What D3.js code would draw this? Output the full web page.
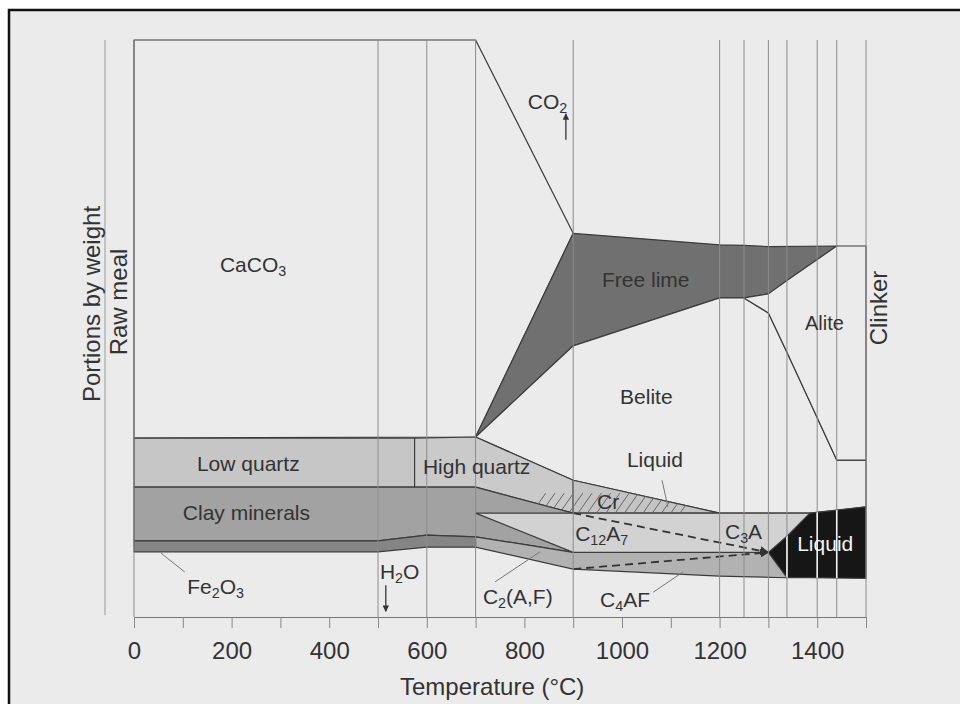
<!DOCTYPE html>
<html>
<head>
<meta charset="utf-8">
<script src="https://cdn.jsdelivr.net/npm/d3@7"></script>
<style>
  body { margin: 0; background: #fff; }
  svg text { font-family: "Liberation Sans", Arial, Helvetica, sans-serif; fill: #333; }
</style>
</head>
<body>
<div id="vis"></div>
<script>
'use strict';

// temperatures (°C) where the process stages change, drawn as thin vertical lines
const stageTemps = [0, 500, 600, 700, 900, 1200, 1250, 1300, 1338, 1400, 1440, 1500];

// phase bands: [temperature, lower edge, upper edge] in portions by weight
const caco3        = [[0, 31.0, 100], [700, 31.2, 100], [900, 66.5, 66.5]];
const freeLime     = [[700, 31.2, 31.2], [900, 47.0, 66.5], [1200, 55.3, 64.5], [1250, 55.3, 64.4], [1300, 56.0, 64.2], [1440, 64.3, 64.3]];
const alite        = [[1250, 55.3, 55.3], [1300, 52.7, 56.0], [1338, 45.9, 58.3], [1440, 27.2, 64.3], [1500, 27.2, 64.3]];
const belite       = [[700, 31.2, 31.2], [900, 23.7, 47.0], [1200, 18.0, 55.3], [1250, 18.0, 55.3], [1300, 18.0, 52.7], [1338, 18.0, 45.9], [1385, 18.0, 37.3], [1440, 18.5, 27.2], [1500, 19.1, 27.2]];
const lowQuartz    = [[0, 22.5, 31.0], [575, 22.5, 31.0]];
const highQuartz   = [[575, 22.5, 31.0], [700, 22.5, 31.2], [900, 18.0, 23.7]];
const cristobalite = [[900, 18.0, 23.7], [1200, 18.0, 18.0]];
const clay         = [[0, 13.2, 22.5], [500, 13.2, 22.5], [600, 14.2, 22.5], [700, 13.9, 22.5], [900, 11.2, 18.0]];
const fe2o3        = [[0, 11.3, 13.2], [500, 11.3, 13.2], [600, 12.1, 14.2], [700, 12.1, 13.9]];
const ferrite      = [[700, 12.1, 13.9], [900, 8.3, 11.2], [1200, 7.1, 11.2], [1338, 6.8, 11.2]];
const aluminate    = [[700, 18.0, 18.0], [900, 11.2, 18.0], [1300, 11.2, 18.0], [1385, 11.2, 18.0]];
const liquid       = [[1300, 11.2, 11.2], [1338, 6.8, 14.0], [1385, 6.8, 18.0], [1500, 6.7, 19.1]];

// dashed conversion lines (C12A7 -> C3A, C2(A,F) -> C4AF)
const c12a7ToC3a = [[900, 18.0], [1300, 11.2]];
const c2afToC4af = [[900, 8.3], [1300, 11.2]];

// x axis ticks
const tickTemps = d3.range(0, 1501, 100);

const W = 960, H = 704;
const paper = '#ebebeb';

var svg = d3.select('#vis').append('svg')
    .attr('width', W)
    .attr('height', H);

// scanned page with its frame
svg.append('rect').attr('x', 9).attr('y', 10).attr('width', W).attr('height', H).attr('fill', paper);
svg.append('path').attr('d', 'M9,' + H + 'L9,10L' + W + ',10')
    .attr('fill', 'none').attr('stroke', '#111').attr('stroke-width', 2.5);

var x = d3.scaleLinear().domain([0, 1500]).range([134, 866]);
var y = d3.scaleLinear().domain([0, 100]).range([617, 40]);

var band = d3.area()
    .x(function(d) { return x(d[0]); })
    .y0(function(d) { return y(d[1]); })
    .y1(function(d) { return y(d[2]); });

var line = d3.line()
    .x(function(d) { return x(d[0]); })
    .y(function(d) { return y(d[1]); });

var defs = svg.append('defs');
defs.append('marker').attr('id', 'arrow')
    .attr('viewBox', '0 0 10 10').attr('refX', 9).attr('refY', 5)
    .attr('markerWidth', 5).attr('markerHeight', 5).attr('orient', 'auto')
    .append('path').attr('d', 'M0,0L10,5L0,10z').attr('fill', '#333');

// phase areas, bottom of the list is drawn last
var phases = [
  [caco3, paper], [freeLime, '#707070'], [belite, paper], [alite, paper],
  [lowQuartz, '#c6c6c6'], [highQuartz, '#cacaca'], [cristobalite, '#c4c4c4'],
  [clay, '#a2a2a2'], [fe2o3, '#858585'], [ferrite, '#b2b2b2'],
  [aluminate, '#d2d2d2'], [liquid, '#161616']
];

var g = svg.append('g');
phases.forEach(function(p) {
  g.append('path')
    .attr('d', band(p[0]))
    .attr('fill', p[1])
    .attr('stroke', '#3c3c3c')
    .attr('stroke-width', 1.2)
    .attr('stroke-linejoin', 'round');
});

// hatching over the quartz / cristobalite band (liquid beginning to form)
var hatchClip = defs.append('clipPath').attr('id', 'hatchClip');
hatchClip.append('path').attr('d', band(highQuartz));
hatchClip.append('path').attr('d', band(cristobalite));
g.append('g').attr('clip-path', 'url(#hatchClip)')
  .selectAll('line').data(d3.range(815, 1130, 19)).enter().append('line')
    .attr('x1', function(t) { return x(t); })
    .attr('y1', y(18.0))
    .attr('x2', function(t) { return x(t) + 14; })
    .attr('y2', y(18.0) - 20)
    .attr('stroke', '#666').attr('stroke-width', 1);

// dashed conversion lines
[c12a7ToC3a, c2afToC4af].forEach(function(d) {
  g.append('path')
    .attr('d', line(d))
    .attr('fill', 'none')
    .attr('stroke', '#333')
    .attr('stroke-width', 1.8)
    .attr('stroke-dasharray', '8,5')
    .attr('marker-end', 'url(#arrow)');
});

// stage lines
g.append('g').selectAll('line').data(stageTemps).enter().append('line')
    .attr('x1', function(t) { return x(t); })
    .attr('x2', function(t) { return x(t); })
    .attr('y1', y(100))
    .attr('y2', y(0))
    .attr('stroke', '#8c8c8c')
    .attr('stroke-width', 1);

// stage lines shown white inside the clinker melt
var liqClip = defs.append('clipPath').attr('id', 'liqClip');
liqClip.append('path').attr('d', band(liquid));
g.append('g').attr('clip-path', 'url(#liqClip)')
  .selectAll('line').data(stageTemps.filter(function(t) { return t > 1300 && t < 1500; }))
  .enter().append('line')
    .attr('x1', function(t) { return x(t); })
    .attr('x2', function(t) { return x(t); })
    .attr('y1', y(30))
    .attr('y2', y(0))
    .attr('stroke', '#eee')
    .attr('stroke-width', 1.6);

// y axis line (portions by weight)
svg.append('line')
    .attr('x1', 105).attr('x2', 105)
    .attr('y1', y(100)).attr('y2', y(0.3))
    .attr('stroke', '#999').attr('stroke-width', 1);

// x axis
var axis = svg.append('g')
    .attr('transform', 'translate(0,' + y(0) + ')')
    .call(d3.axisBottom(x)
      .tickValues(tickTemps)
      .tickSize(11)
      .tickSizeOuter(0)
      .tickPadding(14)
      .tickFormat(function(d) { return (d % 200 === 0 && d <= 1400) ? d : ''; }));
axis.select('.domain').attr('stroke', '#777');
axis.selectAll('.tick line').attr('stroke', '#888');
axis.selectAll('.tick text')
    .attr('font-size', 24)
    .attr('fill', '#333')
    .style('font-family', '"Liberation Sans", Arial, sans-serif');

// text with chemical subscripts: every run of digits goes low and small
function chem(txt, px, py, size, color) {
  var t = svg.append('text').attr('x', px).attr('y', py).attr('font-size', size);
  if (color) t.style('fill', color);
  var parts = txt.match(/\d+|\D+/g);
  var low = false;
  parts.forEach(function(p) {
    var isSub = /^\d+$/.test(p);
    var s = t.append('tspan').text(p);
    if (isSub) {
      s.attr('font-size', size * 0.68).attr('dy', low ? 0 : 4);
      low = true;
    } else {
      if (low) s.attr('dy', -4);
      low = false;
    }
  });
  return t;
}

chem('CaCO3', x(176), y(59.8), 21);
chem('Low quartz', x(129), y(25.3), 21);
chem('Clay minerals', x(100), y(16.8), 21);
chem('Fe2O3', x(109), y(4.0), 21);
chem('H2O', x(504), y(6.6), 21);
chem('High quartz', x(592), y(24.8), 21);
chem('CO2', x(807), y(88.0), 21);
chem('Free lime', x(959), y(57.2), 21);
chem('Alite', x(1375), y(49.7), 20);
chem('Belite', x(996), y(36.9), 21);
chem('Liquid', x(1010), y(26.0), 21);
chem('Cr', x(949), y(18.7), 21);
chem('C12A7', x(904), y(13.2), 21);
chem('C3A', x(1211), y(13.5), 21);
chem('Liquid', x(1359), y(11.4), 21, '#f4f4f4');
chem('C2(A,F)', x(715), y(2.25), 21);
chem('C4AF', x(955), y(1.7), 21);

// leader lines from labels to their bands
var leaders = [
  [[55, 11.1], [104, 7.8]],
  [[1082, 23.7], [1094, 19.1]],
  [[740, 6.1], [832, 11.3]],
  [[1064, 4.3], [1125, 7.8]]
];
leaders.forEach(function(d) {
  svg.append('path').attr('d', line(d)).attr('fill', 'none')
    .attr('stroke', '#777').attr('stroke-width', 1);
});

// released gases
[[[516, 5.5], [516, 1.0]], [[885, 82.7], [885, 87.2]]].forEach(function(d) {
  svg.append('path').attr('d', line(d)).attr('fill', 'none')
    .attr('stroke', '#333').attr('stroke-width', 1.3)
    .attr('marker-end', 'url(#arrow)');
});

// axis titles
svg.append('text').attr('x', 400).attr('y', 695).attr('font-size', 24).text('Temperature (°C)');
svg.append('text').attr('transform', 'translate(100,304) rotate(-90)')
    .attr('text-anchor', 'middle').attr('font-size', 24).text('Portions by weight');
svg.append('text').attr('transform', 'translate(127,302) rotate(-90)')
    .attr('text-anchor', 'middle').attr('font-size', 24).text('Raw meal');
svg.append('text').attr('transform', 'translate(887,308) rotate(-90)')
    .attr('text-anchor', 'middle').attr('font-size', 24).text('Clinker');
</script>
</body>
</html>
